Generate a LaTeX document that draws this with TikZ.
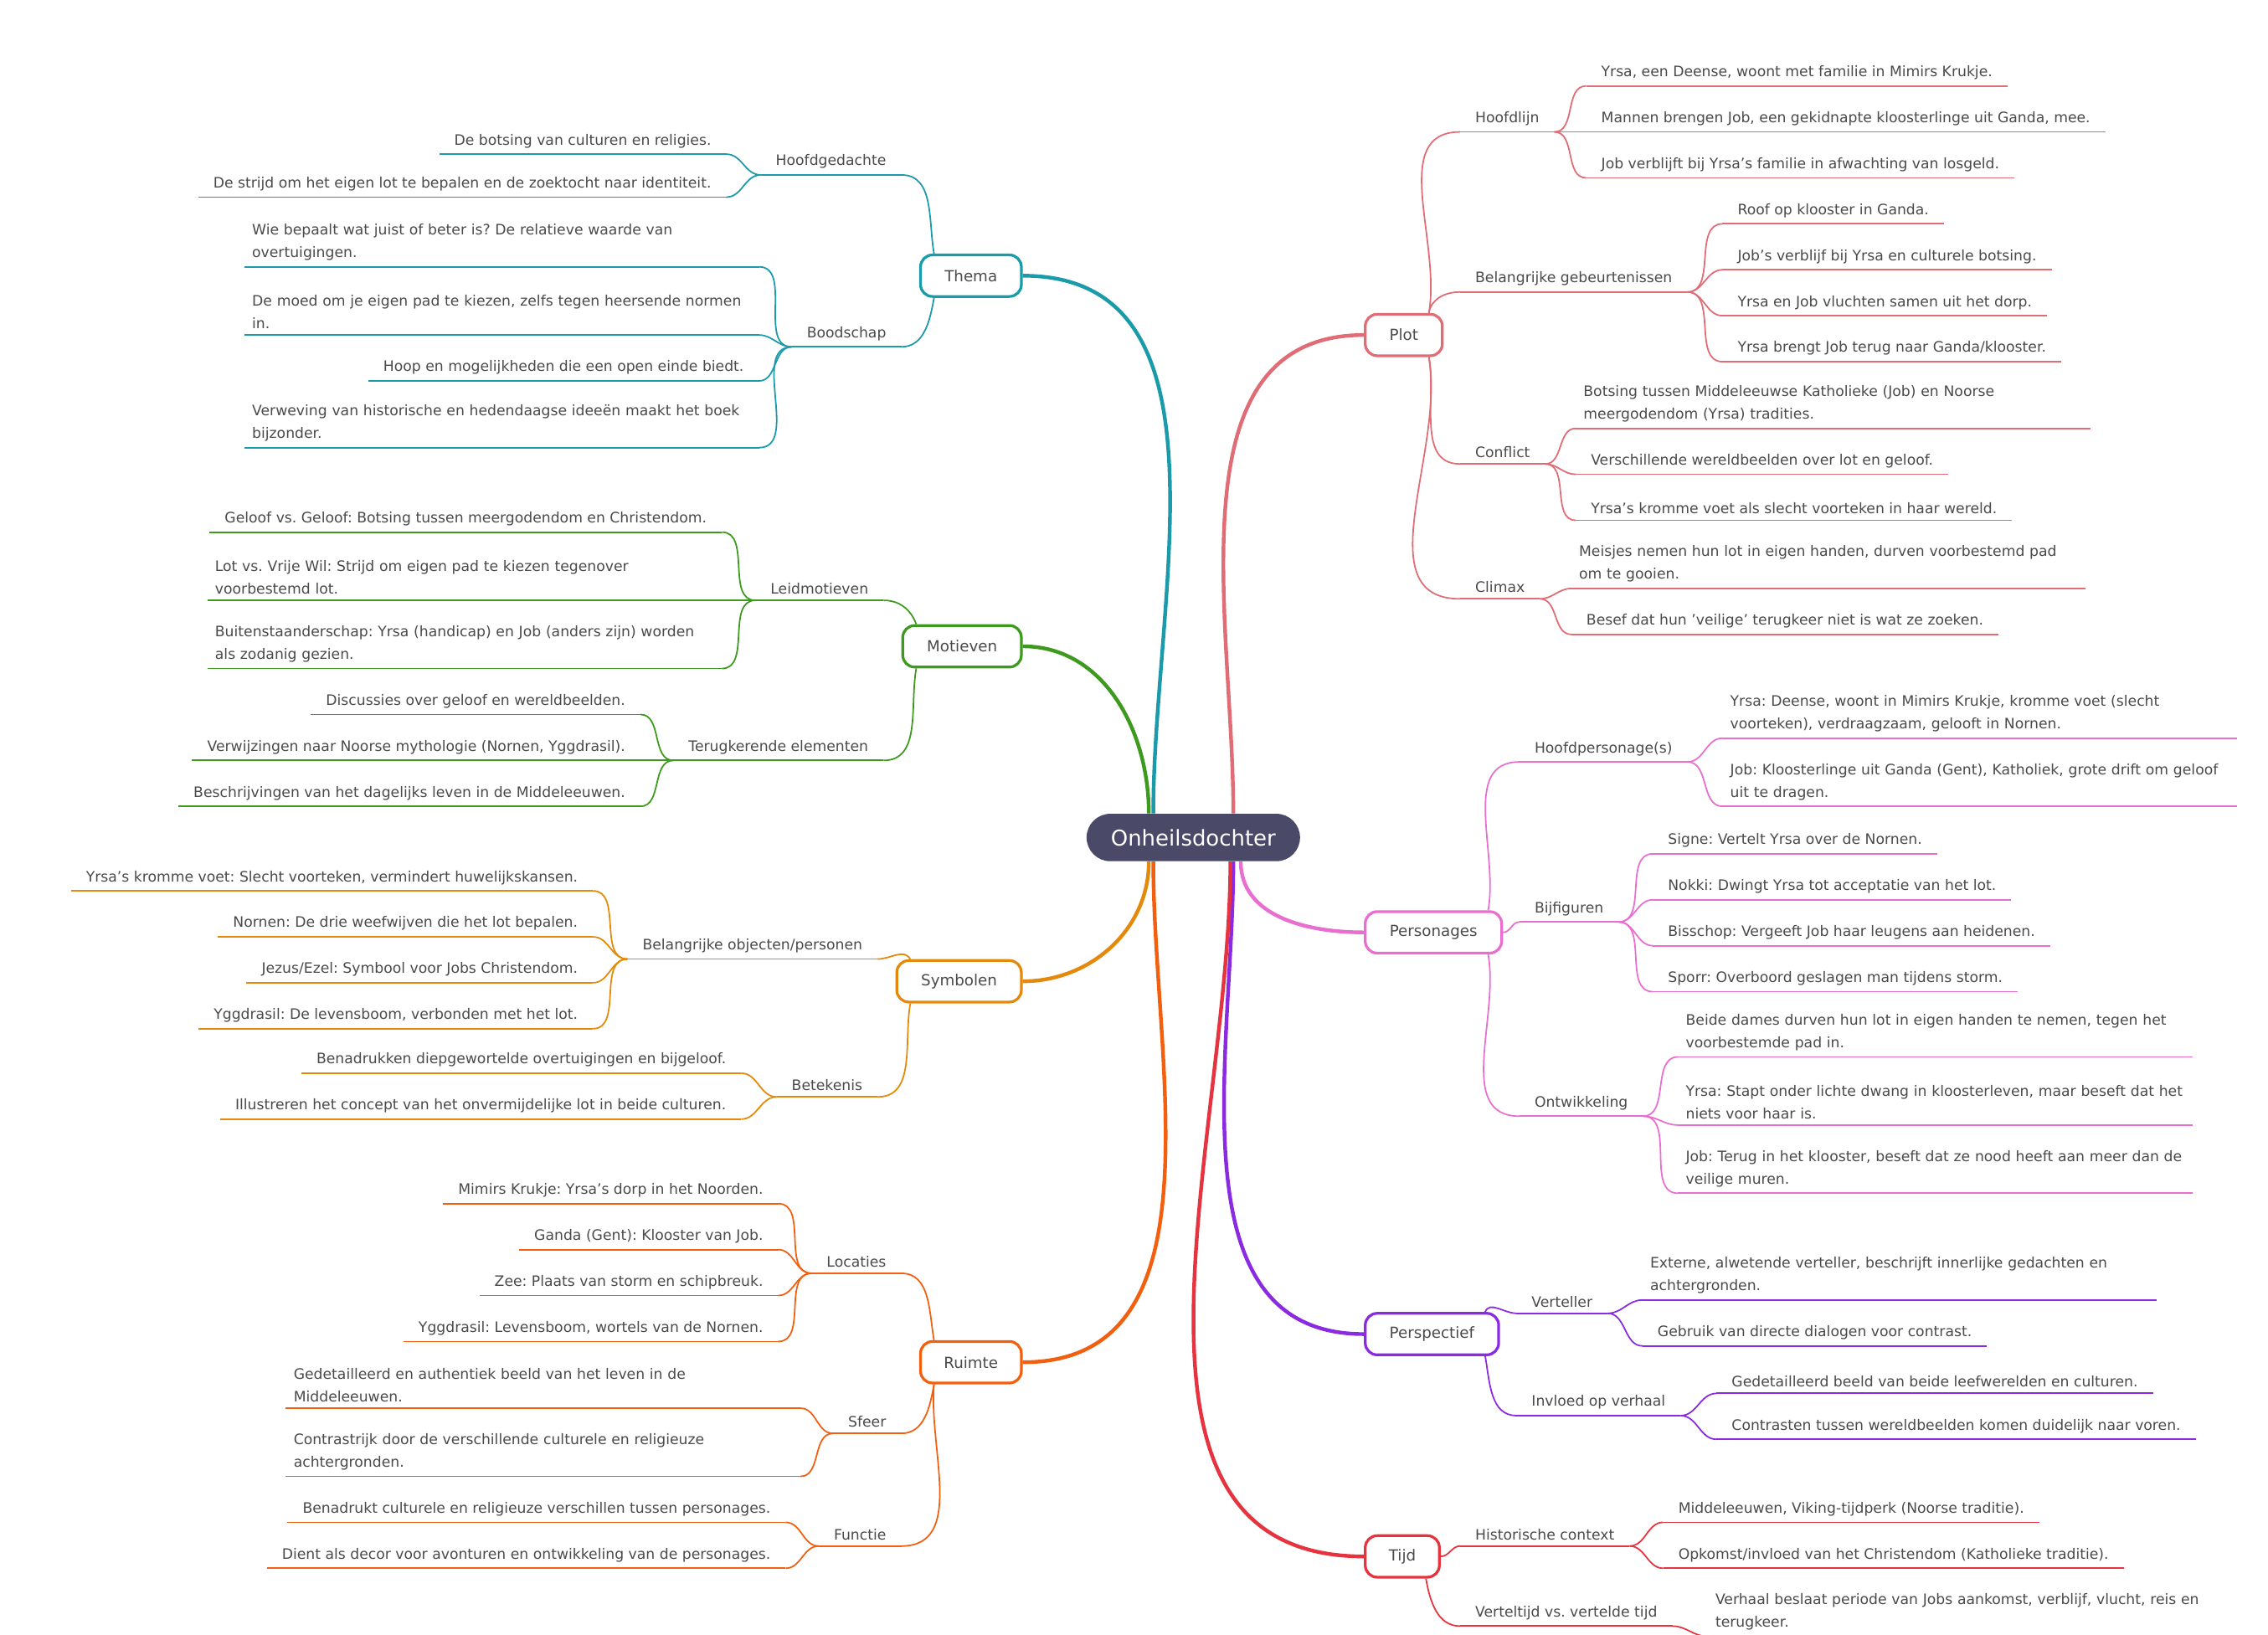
\documentclass[tikz,border=0pt]{standalone}
\usepackage{fontspec}
\setmainfont{DejaVu Sans}
\usetikzlibrary{calc}
\frenchspacing
\hyphenpenalty=10000
\exhyphenpenalty=10000

\definecolor{inkgray}{HTML}{4A4A4A}
\definecolor{rootc}{HTML}{4A4A68}
\definecolor{plotc}{HTML}{E06C75}
\definecolor{persc}{HTML}{E86FD0}
\definecolor{perspc}{HTML}{8A2BE2}
\definecolor{tijdc}{HTML}{E5343F}
\definecolor{themac}{HTML}{1B9AAA}
\definecolor{motc}{HTML}{3D9A1F}
\definecolor{symc}{HTML}{E38A0C}
\definecolor{ruimc}{HTML}{F2600F}

\tikzset{
    root/.style={rounded corners=4.8mm, fill=rootc, text=white,
        minimum width=43.2mm, minimum height=9.6mm,
        font=\fontsize{12.5}{14}\selectfont},
    main/.style={line width=0.55mm, rounded corners=2.4mm, fill=white,
        text=inkgray, minimum height=8.4mm,
        font=\fontsize{8.8}{10}\selectfont},
    sub/.style={text=inkgray, inner xsep=3mm, inner ysep=1.2mm,
        font=\fontsize{8.3}{13}\selectfont,
        append after command={(\tikzlastnode.south west)
            edge[line width=0.3mm] (\tikzlastnode.south east)}},
    leaf/.style={sub},
    wide/.style={sub, text width=101mm, align=left, inner xsep=1.5mm},
    link/.style={line width=0.3mm},
    trunk/.style={line width=0.75mm},
}

\begin{document}
\hyphenpenalty=10000
\exhyphenpenalty=10000
\begin{tikzpicture}[x=0.3mm, y=-0.3mm]
    \useasboundingbox (0,0) rectangle (1530,1103);

    \node[root] (c) at (805,565) {Onheilsdochter};

    % main branches
    \node[main, draw=plotc, minimum width=15.6mm] (plot) at (947,226) {Plot};
    \node[main, draw=persc, minimum width=27.6mm] (pers) at (967,629) {Personages};
    \node[main, draw=perspc, minimum width=27mm] (persp) at (966,900) {Perspectief};
    \node[main, draw=tijdc, minimum width=15mm] (tijd) at (946,1050) {Tijd};
    \node[main, draw=themac, minimum width=20.4mm] (thema) at (655,186) {Thema};
    \node[main, draw=motc, minimum width=24mm] (mot) at (649,436) {Motieven};
    \node[main, draw=symc, minimum width=25.2mm] (sym) at (647,662) {Symbolen};
    \node[main, draw=ruimc, minimum width=20.4mm] (ruim) at (655,919) {Ruimte};

    \draw[trunk, plotc] ([xshift=8.1mm]c.north) to[out=90, in=180] (plot.west);
    \draw[trunk, persc] ([xshift=9.6mm]c.south) to[out=-90, in=180] (pers.west);
    \draw[trunk, perspc] ([xshift=8.1mm]c.south) to[out=-90, in=180] (persp.west);
    \draw[trunk, tijdc] ([xshift=7.5mm]c.south) to[out=-90, in=180] (tijd.west);
    \draw[trunk, themac] ([xshift=-8.1mm]c.north) to[out=90, in=0] (thema.east);
    \draw[trunk, motc] ([xshift=-9mm]c.north) to[out=90, in=0] (mot.east);
    \draw[trunk, symc] ([xshift=-9mm]c.south) to[out=-90, in=0] (sym.east);
    \draw[trunk, ruimc] ([xshift=-8.1mm]c.south) to[out=-90, in=0] (ruim.east);

    % Plot
    \begin{scope}[color=plotc]
        \node[sub, anchor=south west] (hoofdlijn) at (985,89) {Hoofdlijn};
        \draw[link] ([xshift=-3mm]plot.north east) to[out=80, in=180] (hoofdlijn.south west);
        \foreach \y/\s/\t in {58/leaf/{Yrsa, een Deense, woont met familie in Mimirs Krukje.},
                89/leaf/{Mannen brengen Job, een gekidnapte kloosterlinge uit Ganda, mee.},
                120/leaf/{Job verblijft bij Yrsa's familie in afwachting van losgeld.}}{
            \node[\s, anchor=south west] (hl-\y) at (1070,\y) {\t};
            \draw[link] (hoofdlijn.south east) to[out=0, in=180] (hl-\y.south west);
        }
        \node[sub, anchor=south west] (gebeur) at (985,197) {Belangrijke gebeurtenissen};
        \draw[link] ([xshift=-3mm]plot.north east) to[out=80, in=180] (gebeur.south west);
        \foreach \y/\s/\t in {151/leaf/{Roof op klooster in Ganda.},
                182/leaf/{Job's verblijf bij Yrsa en culturele botsing.},
                213/leaf/{Yrsa en Job vluchten samen uit het dorp.},
                244/leaf/{Yrsa brengt Job terug naar Ganda/klooster.}}{
            \node[\s, anchor=south west] (bg-\y) at (1162,\y) {\t};
            \draw[link] (gebeur.south east) to[out=0, in=180] (bg-\y.south west);
        }
        \node[sub, anchor=south west] (conflict) at (985,313) {Conflict};
        \draw[link] ([xshift=-3mm]plot.south east) to[out=-80, in=180] (conflict.south west);
        \foreach \y/\s/\t in {289/wide/{Botsing tussen Middeleeuwse Katholieke (Job) en Noorse meergodendom (Yrsa) tradities.},
                320/leaf/{Verschillende wereldbeelden over lot en geloof.},
                351/leaf/{Yrsa's kromme voet als slecht voorteken in haar wereld.}}{
            \node[\s, anchor=south west] (cf-\y) at (1063,\y) {\t};
            \draw[link] (conflict.south east) to[out=0, in=180] (cf-\y.south west);
        }
        \node[sub, anchor=south west] (climax) at (985,404) {Climax};
        \draw[link] ([xshift=-3mm]plot.south east) to[out=-80, in=180] (climax.south west);
        \foreach \y/\s/\t in {397/wide/{Meisjes nemen hun lot in eigen handen, durven voorbestemd pad om te gooien.},
                428/leaf/{Besef dat hun 'veilige' terugkeer niet is wat ze zoeken.}}{
            \node[\s, anchor=south west] (cl-\y) at (1060,\y) {\t};
            \draw[link] (climax.south east) to[out=0, in=180] (cl-\y.south west);
        }
    \end{scope}

    % Personages
    \begin{scope}[color=persc]
        \node[sub, anchor=south west] (hoofdp) at (1025,514) {Hoofdpersonage(s)};
        \draw[link] ([xshift=-3mm]pers.north east) to[out=80, in=180] (hoofdp.south west);
        \foreach \y/\s/\t in {498/wide/{Yrsa: Deense, woont in Mimirs Krukje, kromme voet (slecht voorteken), verdraagzaam, gelooft in Nornen.},
                544/wide/{Job: Kloosterlinge uit Ganda (Gent), Katholiek, grote drift om geloof uit te dragen.}}{
            \node[\s, anchor=south west] (hp-\y) at (1162,\y) {\t};
            \draw[link] (hoofdp.south east) to[out=0, in=180] (hp-\y.south west);
        }
        \node[sub, anchor=south west] (bijf) at (1025,622) {Bijfiguren};
        \draw[link] (pers.east) to[out=0, in=180] (bijf.south west);
        \foreach \y/\s/\t in {576/leaf/{Signe: Vertelt Yrsa over de Nornen.},
                607/leaf/{Nokki: Dwingt Yrsa tot acceptatie van het lot.},
                638/leaf/{Bisschop: Vergeeft Job haar leugens aan heidenen.},
                669/leaf/{Sporr: Overboord geslagen man tijdens storm.}}{
            \node[\s, anchor=south west] (bf-\y) at (1115,\y) {\t};
            \draw[link] (bijf.south east) to[out=0, in=180] (bf-\y.south west);
        }
        \node[sub, anchor=south west] (ontw) at (1025,753) {Ontwikkeling};
        \draw[link] ([xshift=-3mm]pers.south east) to[out=-80, in=180] (ontw.south west);
        \foreach \y/\s/\t in {713/wide/{Beide dames durven hun lot in eigen handen te nemen, tegen het voorbestemde pad in.},
                759/wide/{Yrsa: Stapt onder lichte dwang in kloosterleven, maar beseft dat het niets voor haar is.},
                805/wide/{Job: Terug in het klooster, beseft dat ze nood heeft aan meer dan de veilige muren.}}{
            \node[\s, anchor=south west] (ow-\y) at (1132,\y) {\t};
            \draw[link] (ontw.south east) to[out=0, in=180] (ow-\y.south west);
        }
    \end{scope}

    % Perspectief
    \begin{scope}[color=perspc]
        \node[sub, anchor=south west] (vert) at (1023,886) {Verteller};
        \draw[link] ([xshift=-3mm]persp.north east) to[out=70, in=180] (vert.south west);
        \foreach \y/\s/\t in {877/wide/{Externe, alwetende verteller, beschrijft innerlijke gedachten en achtergronden.},
                908/leaf/{Gebruik van directe dialogen voor contrast.}}{
            \node[\s, anchor=south west] (vt-\y) at (1108,\y) {\t};
            \draw[link] (vert.south east) to[out=0, in=180] (vt-\y.south west);
        }
        \node[sub, anchor=south west] (invl) at (1023,955) {Invloed op verhaal};
        \draw[link] ([xshift=-3mm]persp.south east) to[out=-80, in=180] (invl.south west);
        \foreach \y/\s/\t in {940/leaf/{Gedetailleerd beeld van beide leefwerelden en culturen.},
                971/leaf/{Contrasten tussen wereldbeelden komen duidelijk naar voren.}}{
            \node[\s, anchor=south west] (iv-\y) at (1158,\y) {\t};
            \draw[link] (invl.south east) to[out=0, in=180] (iv-\y.south west);
        }
    \end{scope}

    % Tijd
    \begin{scope}[color=tijdc]
        \node[sub, anchor=south west] (hist) at (985,1043) {Historische context};
        \draw[link] (tijd.east) to[out=0, in=180] (hist.south west);
        \foreach \y/\s/\t in {1027/leaf/{Middeleeuwen, Viking-tijdperk (Noorse traditie).},
                1058/leaf/{Opkomst/invloed van het Christendom (Katholieke traditie).}}{
            \node[\s, anchor=south west] (hc-\y) at (1122,\y) {\t};
            \draw[link] (hist.south east) to[out=0, in=180] (hc-\y.south west);
        }
        \node[sub, anchor=south west] (vtijd) at (985,1097) {Verteltijd vs. vertelde tijd};
        \draw[link] ([xshift=-3mm]tijd.south east) to[out=-80, in=180] (vtijd.south west);
        \foreach \y/\s/\t in {1104/wide/{Verhaal beslaat periode van Jobs aankomst, verblijf, vlucht, reis en terugkeer.}}{
            \node[\s, anchor=south west] (vv-\y) at (1152,\y) {\t};
            \draw[link] (vtijd.south east) to[out=0, in=180] (vv-\y.south west);
        }
    \end{scope}

    % Thema
    \begin{scope}[color=themac]
        \node[sub, anchor=south east] (hgd) at (608,118) {Hoofdgedachte};
        \draw[link] ([xshift=3mm]thema.north west) to[out=100, in=0] (hgd.south east);
        \foreach \y/\s/\t in {104/leaf/{De botsing van culturen en religies.},
                133/leaf/{De strijd om het eigen lot te bepalen en de zoektocht naar identiteit.}}{
            \node[\s, anchor=south east] (hg-\y) at (490,\y) {\t};
            \draw[link] (hgd.south west) to[out=180, in=0] (hg-\y.south east);
        }
        \node[sub, anchor=south east] (boods) at (608,234) {Boodschap};
        \draw[link] ([xshift=3mm]thema.south west) to[out=-100, in=0] (boods.south east);
        \foreach \y/\s/\t in {180/wide/{Wie bepaalt wat juist of beter is? De relatieve waarde van overtuigingen.},
                226/wide/{De moed om je eigen pad te kiezen, zelfs tegen heersende normen in.},
                257/leaf/{Hoop en mogelijkheden die een open einde biedt.},
                302/wide/{Verweving van historische en hedendaagse ideeën maakt het boek bijzonder.}}{
            \node[\s, anchor=south east] (bs-\y) at (512,\y) {\t};
            \draw[link] (boods.south west) to[out=180, in=0] (bs-\y.south east);
        }
    \end{scope}

    % Motieven
    \begin{scope}[color=motc]
        \node[sub, anchor=south east] (leidm) at (596,405) {Leidmotieven};
        \draw[link] ([xshift=3mm]mot.north west) to[out=110, in=0] (leidm.south east);
        \foreach \y/\s/\t in {359/leaf/{Geloof vs. Geloof: Botsing tussen meergodendom en Christendom.},
                405/wide/{Lot vs. Vrije Wil: Strijd om eigen pad te kiezen tegenover voorbestemd lot.},
                451/wide/{Buitenstaanderschap: Yrsa (handicap) en Job (anders zijn) worden als zodanig gezien.}}{
            \node[\s, anchor=south east] (lm-\y) at (487,\y) {\t};
            \draw[link] (leidm.south west) to[out=180, in=0] (lm-\y.south east);
        }
        \node[sub, anchor=south east] (terug) at (596,513) {Terugkerende elementen};
        \draw[link] ([xshift=3mm]mot.south west) to[out=-100, in=0] (terug.south east);
        \foreach \y/\s/\t in {482/leaf/{Discussies over geloof en wereldbeelden.},
                513/leaf/{Verwijzingen naar Noorse mythologie (Nornen, Yggdrasil).},
                544/leaf/{Beschrijvingen van het dagelijks leven in de Middeleeuwen.}}{
            \node[\s, anchor=south east] (te-\y) at (432,\y) {\t};
            \draw[link] (terug.south west) to[out=180, in=0] (te-\y.south east);
        }
    \end{scope}

    % Symbolen
    \begin{scope}[color=symc]
        \node[sub, anchor=south east] (objp) at (592,647) {Belangrijke objecten/personen};
        \draw[link] ([xshift=3mm]sym.north west) to[out=120, in=0] (objp.south east);
        \foreach \y/\s/\t in {601/leaf/{Yrsa's kromme voet: Slecht voorteken, vermindert huwelijkskansen.},
                632/leaf/{Nornen: De drie weefwijven die het lot bepalen.},
                663/leaf/{Jezus/Ezel: Symbool voor Jobs Christendom.},
                694/leaf/{Yggdrasil: De levensboom, verbonden met het lot.}}{
            \node[\s, anchor=south east] (ob-\y) at (400,\y) {\t};
            \draw[link] (objp.south west) to[out=180, in=0] (ob-\y.south east);
        }
        \node[sub, anchor=south east] (betek) at (592,740) {Betekenis};
        \draw[link] ([xshift=3mm]sym.south west) to[out=-100, in=0] (betek.south east);
        \foreach \y/\s/\t in {724/leaf/{Benadrukken diepgewortelde overtuigingen en bijgeloof.},
                755/leaf/{Illustreren het concept van het onvermijdelijke lot in beide culturen.}}{
            \node[\s, anchor=south east] (bt-\y) at (500,\y) {\t};
            \draw[link] (betek.south west) to[out=180, in=0] (bt-\y.south east);
        }
    \end{scope}

    % Ruimte
    \begin{scope}[color=ruimc]
        \node[sub, anchor=south east] (locat) at (608,859) {Locaties};
        \draw[link] ([xshift=3mm]ruim.north west) to[out=100, in=0] (locat.south east);
        \foreach \y/\s/\t in {812/leaf/{Mimirs Krukje: Yrsa's dorp in het Noorden.},
                843/leaf/{Ganda (Gent): Klooster van Job.},
                874/leaf/{Zee: Plaats van storm en schipbreuk.},
                905/leaf/{Yggdrasil: Levensboom, wortels van de Nornen.}}{
            \node[\s, anchor=south east] (lc-\y) at (525,\y) {\t};
            \draw[link] (locat.south west) to[out=180, in=0] (lc-\y.south east);
        }
        \node[sub, anchor=south east] (sfeer) at (608,967) {Sfeer};
        \draw[link] ([xshift=3mm]ruim.south west) to[out=-100, in=0] (sfeer.south east);
        \foreach \y/\s/\t in {950/wide/{Gedetailleerd en authentiek beeld van het leven in de Middeleeuwen.},
                996/wide/{Contrastrijk door de verschillende culturele en religieuze achtergronden.}}{
            \node[\s, anchor=south east] (sf-\y) at (540,\y) {\t};
            \draw[link] (sfeer.south west) to[out=180, in=0] (sf-\y.south east);
        }
        \node[sub, anchor=south east] (funct) at (608,1043) {Functie};
        \draw[link] ([xshift=3mm]ruim.south west) to[out=-95, in=0] (funct.south east);
        \foreach \y/\s/\t in {1027/leaf/{Benadrukt culturele en religieuze verschillen tussen personages.},
                1058/leaf/{Dient als decor voor avonturen en ontwikkeling van de personages.}}{
            \node[\s, anchor=south east] (fu-\y) at (530,\y) {\t};
            \draw[link] (funct.south west) to[out=180, in=0] (fu-\y.south east);
        }
    \end{scope}
\end{tikzpicture}
\end{document}
